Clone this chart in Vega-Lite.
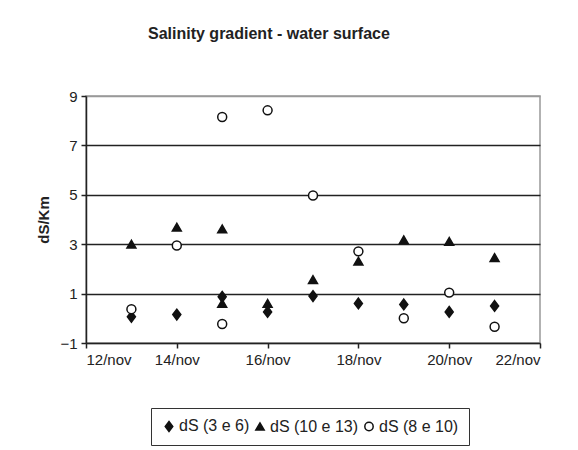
{
  "$schema": "https://vega.github.io/schema/vega-lite/v6.json",
  "autosize": {"type": "none"},
  "width": 454,
  "height": 247,
  "padding": {"left": 86, "top": 96, "right": 38, "bottom": 107},
  "background": "white",
  "title": {
    "text": "Salinity gradient - water surface",
    "anchor": "start",
    "frame": "group",
    "dx": 62,
    "baseline": "alphabetic",
    "offset": 34,
    "font": "Liberation Sans",
    "fontSize": 16,
    "fontWeight": "bold",
    "color": "#222"
  },
  "config": {
    "view": {"stroke": "#999", "strokeWidth": 1.5},
    "font": "Liberation Sans"
  },
  "data": {
    "values": [
      {"day": 13, "series": "dS (3 e 6)", "v": 0.06},
      {"day": 14, "series": "dS (3 e 6)", "v": 0.15},
      {"day": 15, "series": "dS (3 e 6)", "v": 0.87},
      {"day": 16, "series": "dS (3 e 6)", "v": 0.26},
      {"day": 17, "series": "dS (3 e 6)", "v": 0.9},
      {"day": 18, "series": "dS (3 e 6)", "v": 0.6},
      {"day": 19, "series": "dS (3 e 6)", "v": 0.56},
      {"day": 20, "series": "dS (3 e 6)", "v": 0.26},
      {"day": 21, "series": "dS (3 e 6)", "v": 0.5},
      {"day": 13, "series": "dS (10 e 13)", "v": 3.0},
      {"day": 14, "series": "dS (10 e 13)", "v": 3.69},
      {"day": 15, "series": "dS (10 e 13)", "v": 3.62},
      {"day": 15, "series": "dS (10 e 13)", "v": 0.6},
      {"day": 16, "series": "dS (10 e 13)", "v": 0.6},
      {"day": 17, "series": "dS (10 e 13)", "v": 1.57},
      {"day": 18, "series": "dS (10 e 13)", "v": 2.31},
      {"day": 19, "series": "dS (10 e 13)", "v": 3.18},
      {"day": 20, "series": "dS (10 e 13)", "v": 3.11},
      {"day": 21, "series": "dS (10 e 13)", "v": 2.46},
      {"day": 13, "series": "dS (8 e 10)", "v": 0.37},
      {"day": 14, "series": "dS (8 e 10)", "v": 2.95},
      {"day": 15, "series": "dS (8 e 10)", "v": 8.15},
      {"day": 15, "series": "dS (8 e 10)", "v": -0.23},
      {"day": 16, "series": "dS (8 e 10)", "v": 8.42},
      {"day": 17, "series": "dS (8 e 10)", "v": 4.97},
      {"day": 18, "series": "dS (8 e 10)", "v": 2.71},
      {"day": 19, "series": "dS (8 e 10)", "v": 0.0},
      {"day": 20, "series": "dS (8 e 10)", "v": 1.04},
      {"day": 21, "series": "dS (8 e 10)", "v": -0.34}
    ]
  },
  "mark": {"type": "point", "filled": true, "strokeWidth": 1.5, "size": 80, "opacity": 1},
  "encoding": {
    "x": {
      "field": "day",
      "type": "quantitative",
      "scale": {"domain": [12, 22], "nice": false, "zero": false},
      "axis": {
        "values": [12, 14, 16, 18, 20, 22],
        "labelExpr": "datum.value + '/nov'",
        "title": null,
        "grid": false,
        "domainColor": "#222",
        "domainWidth": 1.5,
        "tickColor": "#222",
        "tickWidth": 1.5,
        "tickSize": 5,
        "labelPadding": 4,
        "labelFontSize": 15,
        "labelColor": "#222",
        "labelFont": "Liberation Sans"
      }
    },
    "y": {
      "field": "v",
      "type": "quantitative",
      "scale": {"domain": [-1, 9], "nice": false, "zero": false},
      "axis": {
        "values": [-1, 1, 3, 5, 7, 9],
        "title": "dS/Km",
        "titleFontSize": 15,
        "titleFontWeight": "bold",
        "titleColor": "#222",
        "titlePadding": 8,
        "grid": true,
        "gridColor": {"condition": {"test": "datum.value == 9 || datum.value == -1", "value": "#999"}, "value": "#222"},
        "gridWidth": 1.5,
        "domainColor": "#222",
        "domainWidth": 1.5,
        "tickColor": "#222",
        "tickWidth": 1.5,
        "tickSize": 5,
        "labelPadding": 4,
        "labelFontSize": 15,
        "labelColor": "#222",
        "labelFont": "Liberation Sans"
      }
    },
    "stroke": {"value": "#111"},
    "shape": {
      "field": "series",
      "type": "nominal",
      "scale": {"domain": ["dS (3 e 6)", "dS (10 e 13)", "dS (8 e 10)"], "range": ["M0,-1.2L0.9,0L0,1.2L-0.9,0Z", "triangle-up", "circle"]},
      "legend": {
        "orient": "none",
        "legendX": 65,
        "legendY": 312,
        "direction": "horizontal",
        "title": null,
        "strokeColor": "#333",
        "padding": 10,
        "labelFontSize": 16,
        "labelColor": "#222",
        "labelFont": "Liberation Sans",
        "symbolSize": 70,
        "columnPadding": 2,
        "labelOffset": 2,
        "encode": {"symbols": {"update": {"stroke": {"value": "#111"}, "strokeWidth": {"value": 1.5}}}}
      }
    },
    "fill": {
      "field": "series",
      "type": "nominal",
      "scale": {"domain": ["dS (3 e 6)", "dS (10 e 13)", "dS (8 e 10)"], "range": ["#111", "#111", "white"]},
      "legend": {
        "orient": "none",
        "legendX": 65,
        "legendY": 312,
        "direction": "horizontal",
        "title": null,
        "strokeColor": "#333",
        "padding": 10,
        "labelFontSize": 16,
        "labelColor": "#222",
        "labelFont": "Liberation Sans",
        "symbolSize": 70,
        "columnPadding": 2,
        "labelOffset": 2,
        "encode": {"symbols": {"update": {"stroke": {"value": "#111"}, "strokeWidth": {"value": 1.5}}}}
      }
    }
  }
}
